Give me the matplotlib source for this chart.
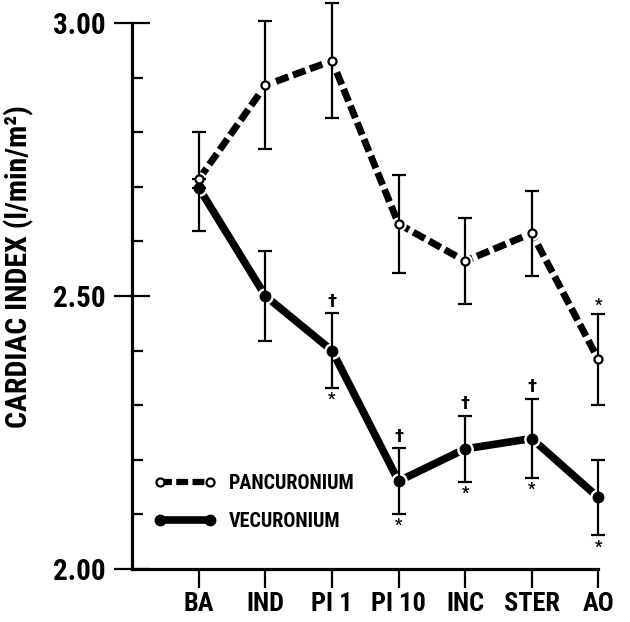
import matplotlib
matplotlib.use("Agg")
import matplotlib.pyplot as plt
from matplotlib.lines import Line2D
from matplotlib.ticker import FixedLocator
from matplotlib import font_manager
import numpy as np

FONT = []
for cand in ['Liberation Sans Narrow', 'Roboto Condensed', 'Open Sans Condensed', 'Liberation Sans']:
    try:
        font_manager.findfont(cand, fallback_to_default=False)
        FONT.append(cand)
        break
    except Exception:
        pass
FONT.append('DejaVu Sans')
plt.rcParams['font.family'] = FONT
plt.rcParams['font.weight'] = 'bold'

categories = ["BA", "IND", "PI 1", "PI 10", "INC", "STER", "AO"]
pan_mean = [2.714, 2.886, 2.931, 2.632, 2.564, 2.615, 2.384]
pan_err_low = [0.0, 0.117, 0.105, 0.090, 0.078, 0.078, 0.083]
pan_err_high = [0.086, 0.117, 0.105, 0.090, 0.078, 0.078, 0.083]
vec_mean = [2.698, 2.500, 2.400, 2.161, 2.220, 2.239, 2.131]
vec_err_low = [0.078, 0.083, 0.068, 0.060, 0.060, 0.072, 0.069]
vec_err_high = [0.0, 0.083, 0.068, 0.060, 0.060, 0.072, 0.069]
vec_dagger = [False, False, True, True, True, True, False]
vec_star = [False, False, True, True, True, True, True]
pan_star = [False, False, False, False, False, False, True]
yticks = [2.00, 2.50, 3.00]
ytick_labels = ["2.00", "2.50", "3.00"]
yminor = [2.1, 2.2, 2.3, 2.4, 2.6, 2.7, 2.8, 2.9]
ylabel = "CARDIAC INDEX (l/min/m²)"
labels = ["PANCURONIUM", "VECURONIUM"]

fig = plt.figure(figsize=(6.30, 6.22), dpi=100)
ax = fig.add_axes([132.3 / 630, 53 / 622, 466 / 630, 567.8 / 622])
x = np.arange(len(categories))

pan_ls = (0, (1.9, 0.7))
ax.plot(x, vec_mean, color='black', lw=5.5, solid_capstyle='butt', zorder=2)
ax.plot(x, pan_mean, color='black', lw=5.0, linestyle=pan_ls, zorder=2)
ax.plot(x, vec_mean, 'o', ms=11, color='white', mec='white', zorder=3, clip_on=False)
ax.plot(x, pan_mean, 'o', ms=9.5, color='white', mec='white', zorder=3, clip_on=False)
for m, lo, hi in ((vec_mean, vec_err_low, vec_err_high), (pan_mean, pan_err_low, pan_err_high)):
    eb = ax.errorbar(x, m, yerr=[lo, hi], fmt='none', ecolor='black', elinewidth=1.6,
                     capsize=5, capthick=1.6, zorder=4)
    for art in eb.get_children():
        art.set_clip_on(False)
ax.plot(x, vec_mean, 'o', ms=7.5, color='black', mec='black', zorder=5, clip_on=False)
ax.plot(x, pan_mean, 'o', ms=5.8, mfc='white', mec='black', mew=1.6, zorder=6, clip_on=False)

for i in range(len(categories)):
    if vec_dagger[i]:
        ax.annotate("†", (x[i], vec_mean[i] + vec_err_high[i]), xytext=(0, 2),
                    textcoords='offset points', ha='center', va='bottom',
                    fontsize=14, fontweight='bold', family=FONT, annotation_clip=False)
    if vec_star[i]:
        ax.annotate("*", (x[i], vec_mean[i] - vec_err_low[i]), xytext=(0, -3),
                    textcoords='offset points', ha='center', va='top',
                    fontsize=12, fontweight='bold', family=FONT, annotation_clip=False)
    if pan_star[i]:
        ax.annotate("*", (x[i], pan_mean[i] + pan_err_high[i]), xytext=(0, 1),
                    textcoords='offset points', ha='center', va='bottom',
                    fontsize=12, fontweight='bold', family=FONT, annotation_clip=False)

ax.set_xlim(-1, len(categories) - 1)
ax.set_ylim(2.0, 3.04)
for s in ('top', 'right'):
    ax.spines[s].set_visible(False)
ax.spines['left'].set_bounds(2.0, 3.0)
ax.spines['bottom'].set_bounds(-1, len(categories) - 1)
ax.spines['left'].set_linewidth(2.3)
ax.spines['bottom'].set_linewidth(2.3)

ax.set_xticks(x)
ax.set_xticklabels(categories, fontsize=19, fontweight='bold')
ax.tick_params(axis='x', direction='out', length=13.5, width=1.6, pad=3)
ax.yaxis.set_major_locator(FixedLocator(yticks))
ax.set_yticklabels(ytick_labels, fontsize=21, fontweight='bold')
ax.yaxis.set_minor_locator(FixedLocator(yminor))
ax.tick_params(axis='y', which='major', direction='inout', length=26, width=1.6, pad=6)
ax.tick_params(axis='y', which='minor', direction='in', length=8, width=1.6)
ax.set_ylabel(ylabel, fontsize=21.5, fontweight='bold')
ax.yaxis.set_label_coords(-0.212, 0.532)

handles = [
    Line2D([], [], color='black', lw=4.5, linestyle=pan_ls, marker='o', ms=5.8,
           mfc='white', mec='black', mew=1.6),
    Line2D([], [], color='black', lw=5.5, marker='o', ms=7.5, mfc='black', mec='black'),
]
ax.legend(handles, labels, loc='upper left', bbox_to_anchor=(0.046, 0.167),
          frameon=False, numpoints=2, handlelength=3.1, handletextpad=0.65,
          labelspacing=0.95, borderpad=0, borderaxespad=0,
          prop={'family': FONT, 'weight': 'bold', 'size': 14.5})

fig.savefig("out.png", dpi=100)
